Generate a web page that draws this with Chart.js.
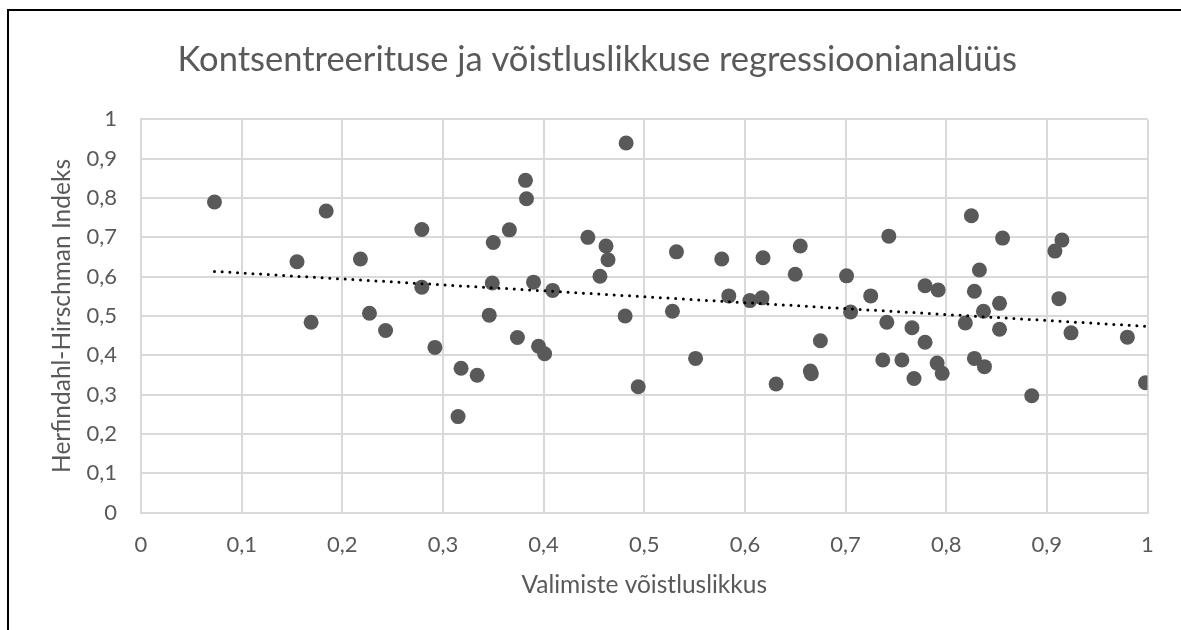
<!DOCTYPE html>
<html>
<head>
<meta charset="utf-8">
<script src="https://cdn.jsdelivr.net/npm/chart.js@4/dist/chart.umd.min.js"></script>
<style>
  html, body { margin: 0; padding: 0; background: #fff; overflow: hidden; }
  #wrap { position: relative; width: 1181px; height: 630px; }
  #frame { position: absolute; left: 7px; top: 9px; width: 1400px; height: 800px; border: 2px solid #000; box-sizing: border-box; pointer-events: none; }
  canvas { position: absolute; left: 0; top: 0; }
</style>
</head>
<body>
<div id="wrap">
  <canvas id="chart" width="1181" height="630"></canvas>
  <div id="frame"></div>
</div>
<script>
// andmed (loetud pildilt)
const voistluslikkus = [
  0.073, 0.155, 0.169, 0.184, 0.218, 0.227, 0.243, 0.279, 0.279, 0.292,
  0.315, 0.318, 0.334, 0.346, 0.349, 0.350, 0.366, 0.374, 0.382, 0.383,
  0.390, 0.395, 0.401, 0.409, 0.444, 0.456, 0.462, 0.464, 0.481, 0.482,
  0.494, 0.528, 0.532, 0.551, 0.577, 0.584, 0.605, 0.617, 0.618, 0.631,
  0.650, 0.655, 0.665, 0.666, 0.675, 0.701, 0.705, 0.725, 0.737, 0.741,
  0.743, 0.756, 0.766, 0.768, 0.779, 0.779, 0.791, 0.792, 0.796, 0.819,
  0.825, 0.828, 0.828, 0.833, 0.837, 0.838, 0.853, 0.853, 0.856, 0.885,
  0.908, 0.912, 0.915, 0.924, 0.980, 0.998
];
const hhi = [
  0.790, 0.638, 0.484, 0.767, 0.645, 0.507, 0.463, 0.720, 0.573, 0.420,
  0.244, 0.367, 0.349, 0.502, 0.584, 0.687, 0.719, 0.445, 0.845, 0.798,
  0.586, 0.423, 0.404, 0.565, 0.700, 0.601, 0.678, 0.643, 0.500, 0.940,
  0.320, 0.512, 0.663, 0.392, 0.645, 0.551, 0.539, 0.546, 0.648, 0.327,
  0.606, 0.678, 0.360, 0.353, 0.437, 0.602, 0.510, 0.551, 0.388, 0.484,
  0.703, 0.388, 0.470, 0.341, 0.577, 0.433, 0.380, 0.566, 0.354, 0.482,
  0.755, 0.563, 0.392, 0.617, 0.512, 0.371, 0.532, 0.466, 0.698, 0.297,
  0.665, 0.544, 0.693, 0.457, 0.446, 0.330
];
const tickValues = [0, 0.1, 0.2, 0.3, 0.4, 0.5, 0.6, 0.7, 0.8, 0.9, 1];

const textColor = '#595959';
const gridColor = '#d9d9d9';
const fontFamily = 'Lato, "Open Sans", sans-serif';

// lineaarne trend (vähimruutude meetod)
const n = voistluslikkus.length;
const mx = voistluslikkus.reduce((a, b) => a + b, 0) / n;
const my = hhi.reduce((a, b) => a + b, 0) / n;
let sxy = 0, sxx = 0;
for (let i = 0; i < n; i++) {
  sxy += (voistluslikkus[i] - mx) * (hhi[i] - my);
  sxx += (voistluslikkus[i] - mx) ** 2;
}
const slope = sxy / sxx;
const intercept = my - slope * mx;
const xMin = Math.min(...voistluslikkus);
const xMax = Math.max(...voistluslikkus);

const points = voistluslikkus.map((x, i) => ({ x: x, y: hhi[i] }));
const trend = [xMin, xMax].map(x => ({ x: x, y: intercept + slope * x }));

const fmt = v => String(Math.round(v * 10) / 10).replace('.', ',');

new Chart(document.getElementById('chart').getContext('2d'), {
  type: 'scatter',
  data: {
    datasets: [
      {
        data: points,
        backgroundColor: '#595959',
        borderColor: '#595959',
        pointRadius: 7.5,
        pointHoverRadius: 7.5,
        borderWidth: 0,
        order: 2
      },
      {
        type: 'line',
        data: trend,
        borderColor: '#000',
        borderWidth: 3,
        borderDash: [0, 7.7],
        borderCapStyle: 'round',
        pointRadius: 0,
        fill: false,
        order: 1
      }
    ]
  },
  options: {
    responsive: false,
    animation: false,
    layout: { padding: { left: 47, right: 33.5, top: 0, bottom: 0 } },
    plugins: {
      legend: { display: false },
      tooltip: { enabled: false },
      title: {
        display: true,
        text: 'Kontsentreerituse ja võistluslikkuse regressioonianalüüs',
        color: textColor,
        font: { family: fontFamily, size: 34.5, weight: 'normal', lineHeight: 1.2 },
        padding: { top: 39.5, bottom: 38.5 }
      }
    },
    scales: {
      x: {
        type: 'linear',
        min: 0,
        max: 1,
        afterBuildTicks: s => { s.ticks = tickValues.map(v => ({ value: v })); },
        afterFit: s => { s.height = 117.5; },
        grid: { color: gridColor, lineWidth: 2, drawTicks: false },
        border: { color: gridColor, width: 2 },
        ticks: { color: textColor, padding: 19.3, maxRotation: 0, font: { family: fontFamily, size: 22 }, callback: fmt },
        title: {
          display: true,
          text: 'Valimiste võistluslikkus',
          color: textColor,
          font: { family: fontFamily, size: 24.5, lineHeight: 1.2 },
          padding: { top: 0, bottom: 30.3 }
        }
      },
      y: {
        type: 'linear',
        min: 0,
        max: 1,
        afterBuildTicks: s => { s.ticks = tickValues.map(v => ({ value: v })); },
        afterFit: s => { s.width = 94; },
        grid: { color: gridColor, lineWidth: 2, drawTicks: false },
        border: { color: gridColor, width: 2 },
        ticks: { color: textColor, padding: 24, font: { family: fontFamily, size: 22 }, callback: fmt },
        title: {
          display: true,
          text: 'Herfindahl-Hirschman Indeks',
          color: textColor,
          font: { family: fontFamily, size: 24.5, lineHeight: 1.2 },
          padding: { top: 0, bottom: 0 }
        }
      }
    }
  }
});
</script>
</body>
</html>
